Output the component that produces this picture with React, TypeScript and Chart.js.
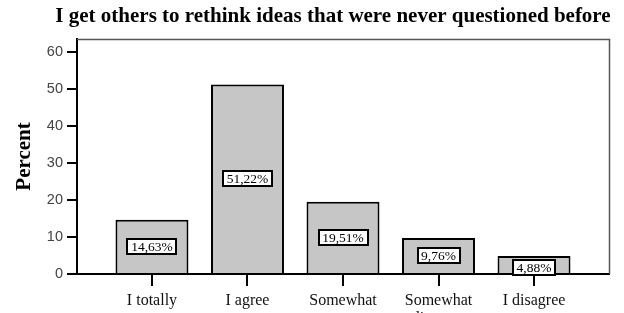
import React, { useEffect, useRef } from "react";
import { Chart, registerables } from "chart.js";

Chart.register(...registerables);

const chartTitle = "I get others to rethink ideas that were never questioned before";
const yAxisTitle = "Percent";
const categories: string[][] = [
  ["I totally", "agree"],
  ["I agree"],
  ["Somewhat", "agree"],
  ["Somewhat", "disagree"],
  ["I disagree"],
];
const percents = [14.63, 51.22, 19.51, 9.76, 4.88];
const valueLabels = ["14,63%", "51,22%", "19,51%", "9,76%", "4,88%"];
const yTicks = [0, 10, 20, 30, 40, 50, 60];

const W = 624;
const H = 313;

export default function App() {
  const ref = useRef<HTMLCanvasElement | null>(null);

  useEffect(() => {
    document.body.style.margin = "0";
    const canvas = ref.current;
    if (!canvas) return;

    const overlay = {
      id: "overlay",
      afterDraw(chart: any) {
        const { ctx, chartArea: a } = chart;
        ctx.save();
        // top and right frame lines
        ctx.strokeStyle = "#555";
        ctx.lineWidth = 1.5;
        ctx.beginPath();
        ctx.moveTo(a.left, a.top + 0.5);
        ctx.lineTo(a.right + 0.5, a.top + 0.5);
        ctx.lineTo(a.right + 0.5, a.bottom);
        ctx.stroke();

        // value label boxes
        const meta = chart.getDatasetMeta(0);
        ctx.font = '13.5px "Liberation Serif"';
        ctx.textAlign = "center";
        ctx.textBaseline = "middle";
        meta.data.forEach((bar: any, i: number) => {
          const { x, y, base } = bar.getProps(["x", "y", "base"], true);
          const txt = valueLabels[i];
          const tw = ctx.measureText(txt).width;
          const bw = Math.round(tw + 7);
          const bh = 15;
          const cy = Math.max((y + base) / 2, y + 4 + bh / 2);
          const bx = Math.round(x - bw / 2);
          const by = Math.round(cy - bh / 2);
          ctx.fillStyle = "#fff";
          ctx.fillRect(bx, by, bw, bh);
          ctx.strokeStyle = "#000";
          ctx.lineWidth = 2;
          ctx.strokeRect(bx, by, bw, bh);
          ctx.fillStyle = "#000";
          ctx.fillText(txt, x, by + bh / 2 + 0.5);
        });

        // chart title
        ctx.font = 'bold 21px "Liberation Serif"';
        ctx.fillStyle = "#000";
        ctx.textAlign = "center";
        ctx.textBaseline = "middle";
        ctx.fillText(chartTitle, 333, 17);
        ctx.restore();
      },
    };

    const chart = new Chart(canvas, {
      type: "bar",
      data: {
        datasets: [
          {
            data: percents.map((v, i) => ({ x: i, y: v })),
            backgroundColor: "#c6c6c6",
            borderColor: "#000",
            borderWidth: 2,
            barPercentage: 0.764,
            categoryPercentage: 1,
          },
        ],
      },
      options: {
        animation: false,
        responsive: false,
        maintainAspectRatio: false,
        layout: { padding: { top: 39, right: 15, left: 0, bottom: 0 } },
        plugins: {
          legend: { display: false },
          tooltip: { enabled: false },
          title: { display: false },
        },
        scales: {
          x: {
            type: "linear",
            min: -0.785,
            max: 4.785,
            offset: false,
            afterBuildTicks: (s: any) => {
              s.ticks = categories.map((_, i) => ({ value: i }));
            },
            afterFit: (s: any) => {
              s.height = 39;
            },
            ticks: {
              autoSkip: false,
              maxRotation: 0,
              minRotation: 0,
              padding: 6,
              color: "#111",
              font: { family: "Liberation Serif", size: 16, lineHeight: 1.1 },
              callback: (v: any) => categories[Math.round(Number(v))] ?? "",
            },
            grid: {
              display: true,
              offset: false,
              drawOnChartArea: false,
              drawTicks: true,
              tickLength: 12,
              color: "#000",
              lineWidth: 2,
            },
            border: { display: true, color: "#000", width: 2 },
          },
          y: {
            type: "linear",
            min: 0,
            max: 63.5,
            afterBuildTicks: (s: any) => {
              s.ticks = yTicks.map((v) => ({ value: v }));
            },
            afterFit: (s: any) => {
              s.width = 77;
            },
            ticks: {
              padding: 4,
              color: "#444",
              font: { family: "Liberation Sans", size: 14.5 },
            },
            grid: {
              display: true,
              offset: false,
              drawOnChartArea: false,
              drawTicks: true,
              tickLength: 10,
              color: "#000",
              lineWidth: 2,
            },
            border: { display: true, color: "#000", width: 2 },
            title: {
              display: true,
              text: yAxisTitle,
              color: "#000",
              font: { family: "Liberation Serif", size: 21, weight: "bold" },
              padding: { top: 12, bottom: 0 },
            },
          },
        },
      },
      plugins: [overlay],
    } as any);

    return () => chart.destroy();
  }, []);

  return (
    <div style={{ width: W, height: H, background: "#fff" }}>
      <canvas ref={ref} width={W} height={H} style={{ display: "block", width: W, height: H }} />
    </div>
  );
}
